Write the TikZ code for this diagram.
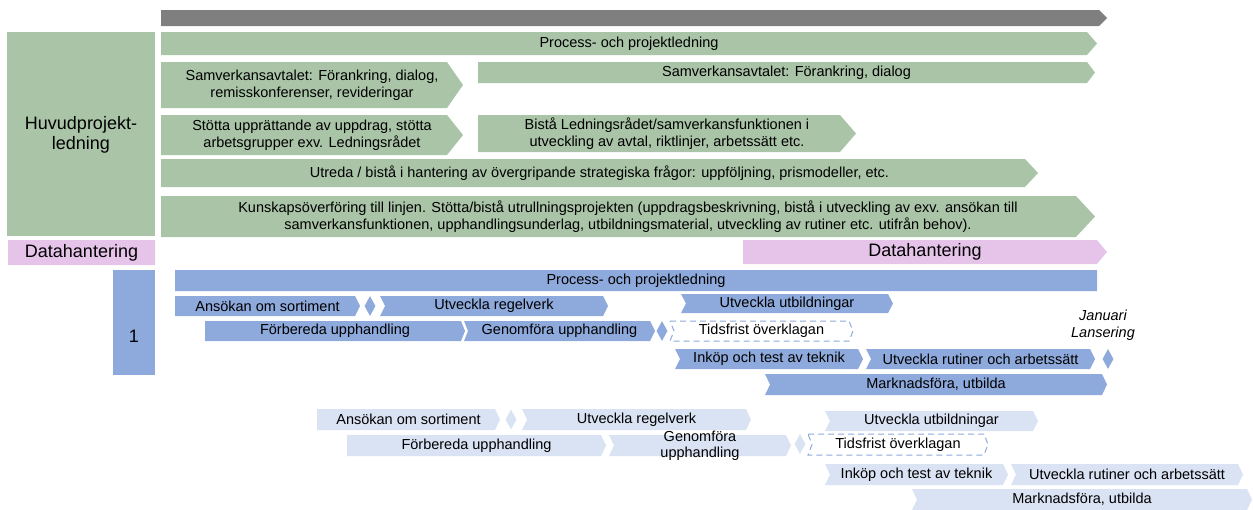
\documentclass[tikz,border=0pt]{standalone}
\usepackage{fontspec}
\setmainfont{Liberation Sans}
\usepackage{tikz}
\usetikzlibrary{positioning, shapes.geometric}
\definecolor{morkgra}{RGB}{127,127,127}
\definecolor{pastelgron}{RGB}{169,196,167}
\definecolor{pastelrosa}{RGB}{230,196,234}
\definecolor{pastelbla}{RGB}{142,169,219}
\definecolor{ljusbla}{RGB}{218,227,243}
\newcommand{\stor}{\fontsize{18}{20}\selectfont}
\tikzset{gra/.style={fill=morkgra},
         gron/.style={fill=pastelgron},
         rosa/.style={fill=pastelrosa},
         bla/.style={fill=pastelbla},
         ljus/.style={fill=ljusbla},
         streck/.style={draw=pastelbla, line width=1pt, dash pattern=on 6pt off 4pt, fill=white},
         tekst/.style={align=center, inner sep=0pt, font=\fontsize{14.5}{16.5}\selectfont},
         ruta/.style={diamond, fill=pastelbla, minimum width=11pt, minimum height=20pt, inner sep=0pt},
         ljusruta/.style={ruta, fill=ljusbla}}
% stil, x1, x2, y1, y2, inskarning, spets, namn, text
\newcommand{\pil}[9]{%
  \path[#1] (#2,#4) -- (#3,#4) -- ({#3+#7},{(#4+#5)/2}) -- (#3,#5) -- (#2,#5)
            -- ({#2+#6},{(#4+#5)/2}) -- cycle;
  \node[tekst] (#8) at ({(#2+#3+#7)/2},{(#4+#5)/2}) {#9};}

\begin{document}
\begin{tikzpicture}[x=1pt, y=-1pt]
  \useasboundingbox (0,0) rectangle (1253,509);

  % tidslinje
  \pil{gra}{161}{1099}{10}{26}{0}{8}{tid}{}

  % huvudprojektledning
  \fill[gron] (7,32) rectangle (155,236);
  \node[tekst, font=\stor] (huvud) at (81,135) {Huvudprojekt-\\ledning};
  \pil{gron}{161}{1087}{32}{55}{0}{10}{g1}{Process- och projektledning}
  \pil{gron}{161}{447}{62}{108}{0}{16}{g2a}{Samverkansavtalet: Förankring, dialog,\\remisskonferenser, revideringar}
  \pil{gron}{478}{1087}{62}{83}{0}{8}{g2b}{Samverkansavtalet: Förankring, dialog}
  \pil{gron}{161}{447}{115}{155}{0}{16}{g3a}{Stötta upprättande av uppdrag, stötta\\arbetsgrupper exv. Ledningsrådet}
  \pil{gron}{478}{840}{115}{152}{0}{16}{g3b}{Bistå Ledningsrådet/samverkansfunktionen i\\utveckling av avtal, riktlinjer, arbetssätt etc.}
  \pil{gron}{161}{1025}{159}{187}{0}{13}{g4}{Utreda / bistå i hantering av övergripande strategiska frågor: uppföljning, prismodeller, etc.}
  \pil{gron}{161}{1076}{196}{237}{0}{19}{g5}{Kunskapsöverföring till linjen. Stötta/bistå utrullningsprojekten (uppdragsbeskrivning, bistå i utveckling av exv. ansökan till\\samverkansfunktionen, upphandlingsunderlag, utbildningsmaterial, utveckling av rutiner etc. utifrån behov).}

  % datahantering
  \pil{rosa}{8}{155}{240}{265}{0}{0}{data1}{\stor Datahantering}
  \pil{rosa}{743}{1097}{240}{264}{0}{10}{data2}{\stor Datahantering}

  % etapp 1
  \fill[bla] (113,270) rectangle (155,375);
  \node[tekst, font=\stor] (ett) at (134,336) {1};
  \pil{bla}{175}{1097}{270}{291}{0}{0}{b1}{Process- och projektledning}
  \pil{bla}{175}{355}{296}{316}{0}{5}{b2}{Ansökan om sortiment}
  \node[ruta] (d1) at (370,306) {};
  \pil{bla}{380}{603}{296}{316}{5}{5}{b3}{Utveckla regelverk}
  \pil{bla}{681}{888}{294}{313}{5}{5}{b4}{Utveckla utbildningar}
  \pil{bla}{205}{461}{321}{341}{0}{4}{b5}{Förbereda upphandling}
  \pil{bla}{464}{650}{321}{341}{4}{5}{b6}{Genomföra upphandling}
  \node[ruta] (d2) at (662,331) {};
  \pil{streck}{670}{849}{321}{341}{4}{4}{b7}{Tidsfrist överklagan}
  \pil{bla}{675}{858}{349}{369}{5}{5}{b8}{Inköp och test av teknik}
  \pil{bla}{866}{1090}{349}{369}{5}{5}{b9}{Utveckla rutiner och arbetssätt}
  \node[ruta] (d3) at (1108,359) {};
  \node[tekst, font=\fontsize{14.5}{16.5}\selectfont\itshape] (lans) at (1103,325) {Januari\\Lansering};
  \pil{bla}{765}{1102}{374}{395}{5}{5}{b10}{Marknadsföra, utbilda}

  % etapp 2
  \pil{ljus}{317}{495}{409}{430}{0}{5}{l1}{Ansökan om sortiment}
  \node[ljusruta] (ld1) at (511,419.5) {};
  \pil{ljus}{522}{746}{409}{430}{5}{5}{l2}{Utveckla regelverk}
  \pil{ljus}{825}{1033}{411}{431}{5}{5}{l3}{Utveckla utbildningar}
  \pil{ljus}{347}{601}{435}{456}{0}{5}{l4}{Förbereda upphandling}
  \pil{ljus}{609}{786}{435}{456}{5}{5}{l5}{Genomföra\\upphandling}
  \node[ljusruta] (ld2) at (800,444) {};
  \pil{streck}{808}{984}{434}{455}{4}{4}{l6}{Tidsfrist överklagan}
  \pil{ljus}{825}{1003}{464}{485}{5}{5}{l7}{Inköp och test av teknik}
  \pil{ljus}{1011}{1238}{464}{485}{5}{5}{l8}{Utveckla rutiner och arbetssätt}
  \pil{ljus}{912}{1247}{489}{510}{5}{5}{l9}{Marknadsföra, utbilda}
\end{tikzpicture}
\end{document}
